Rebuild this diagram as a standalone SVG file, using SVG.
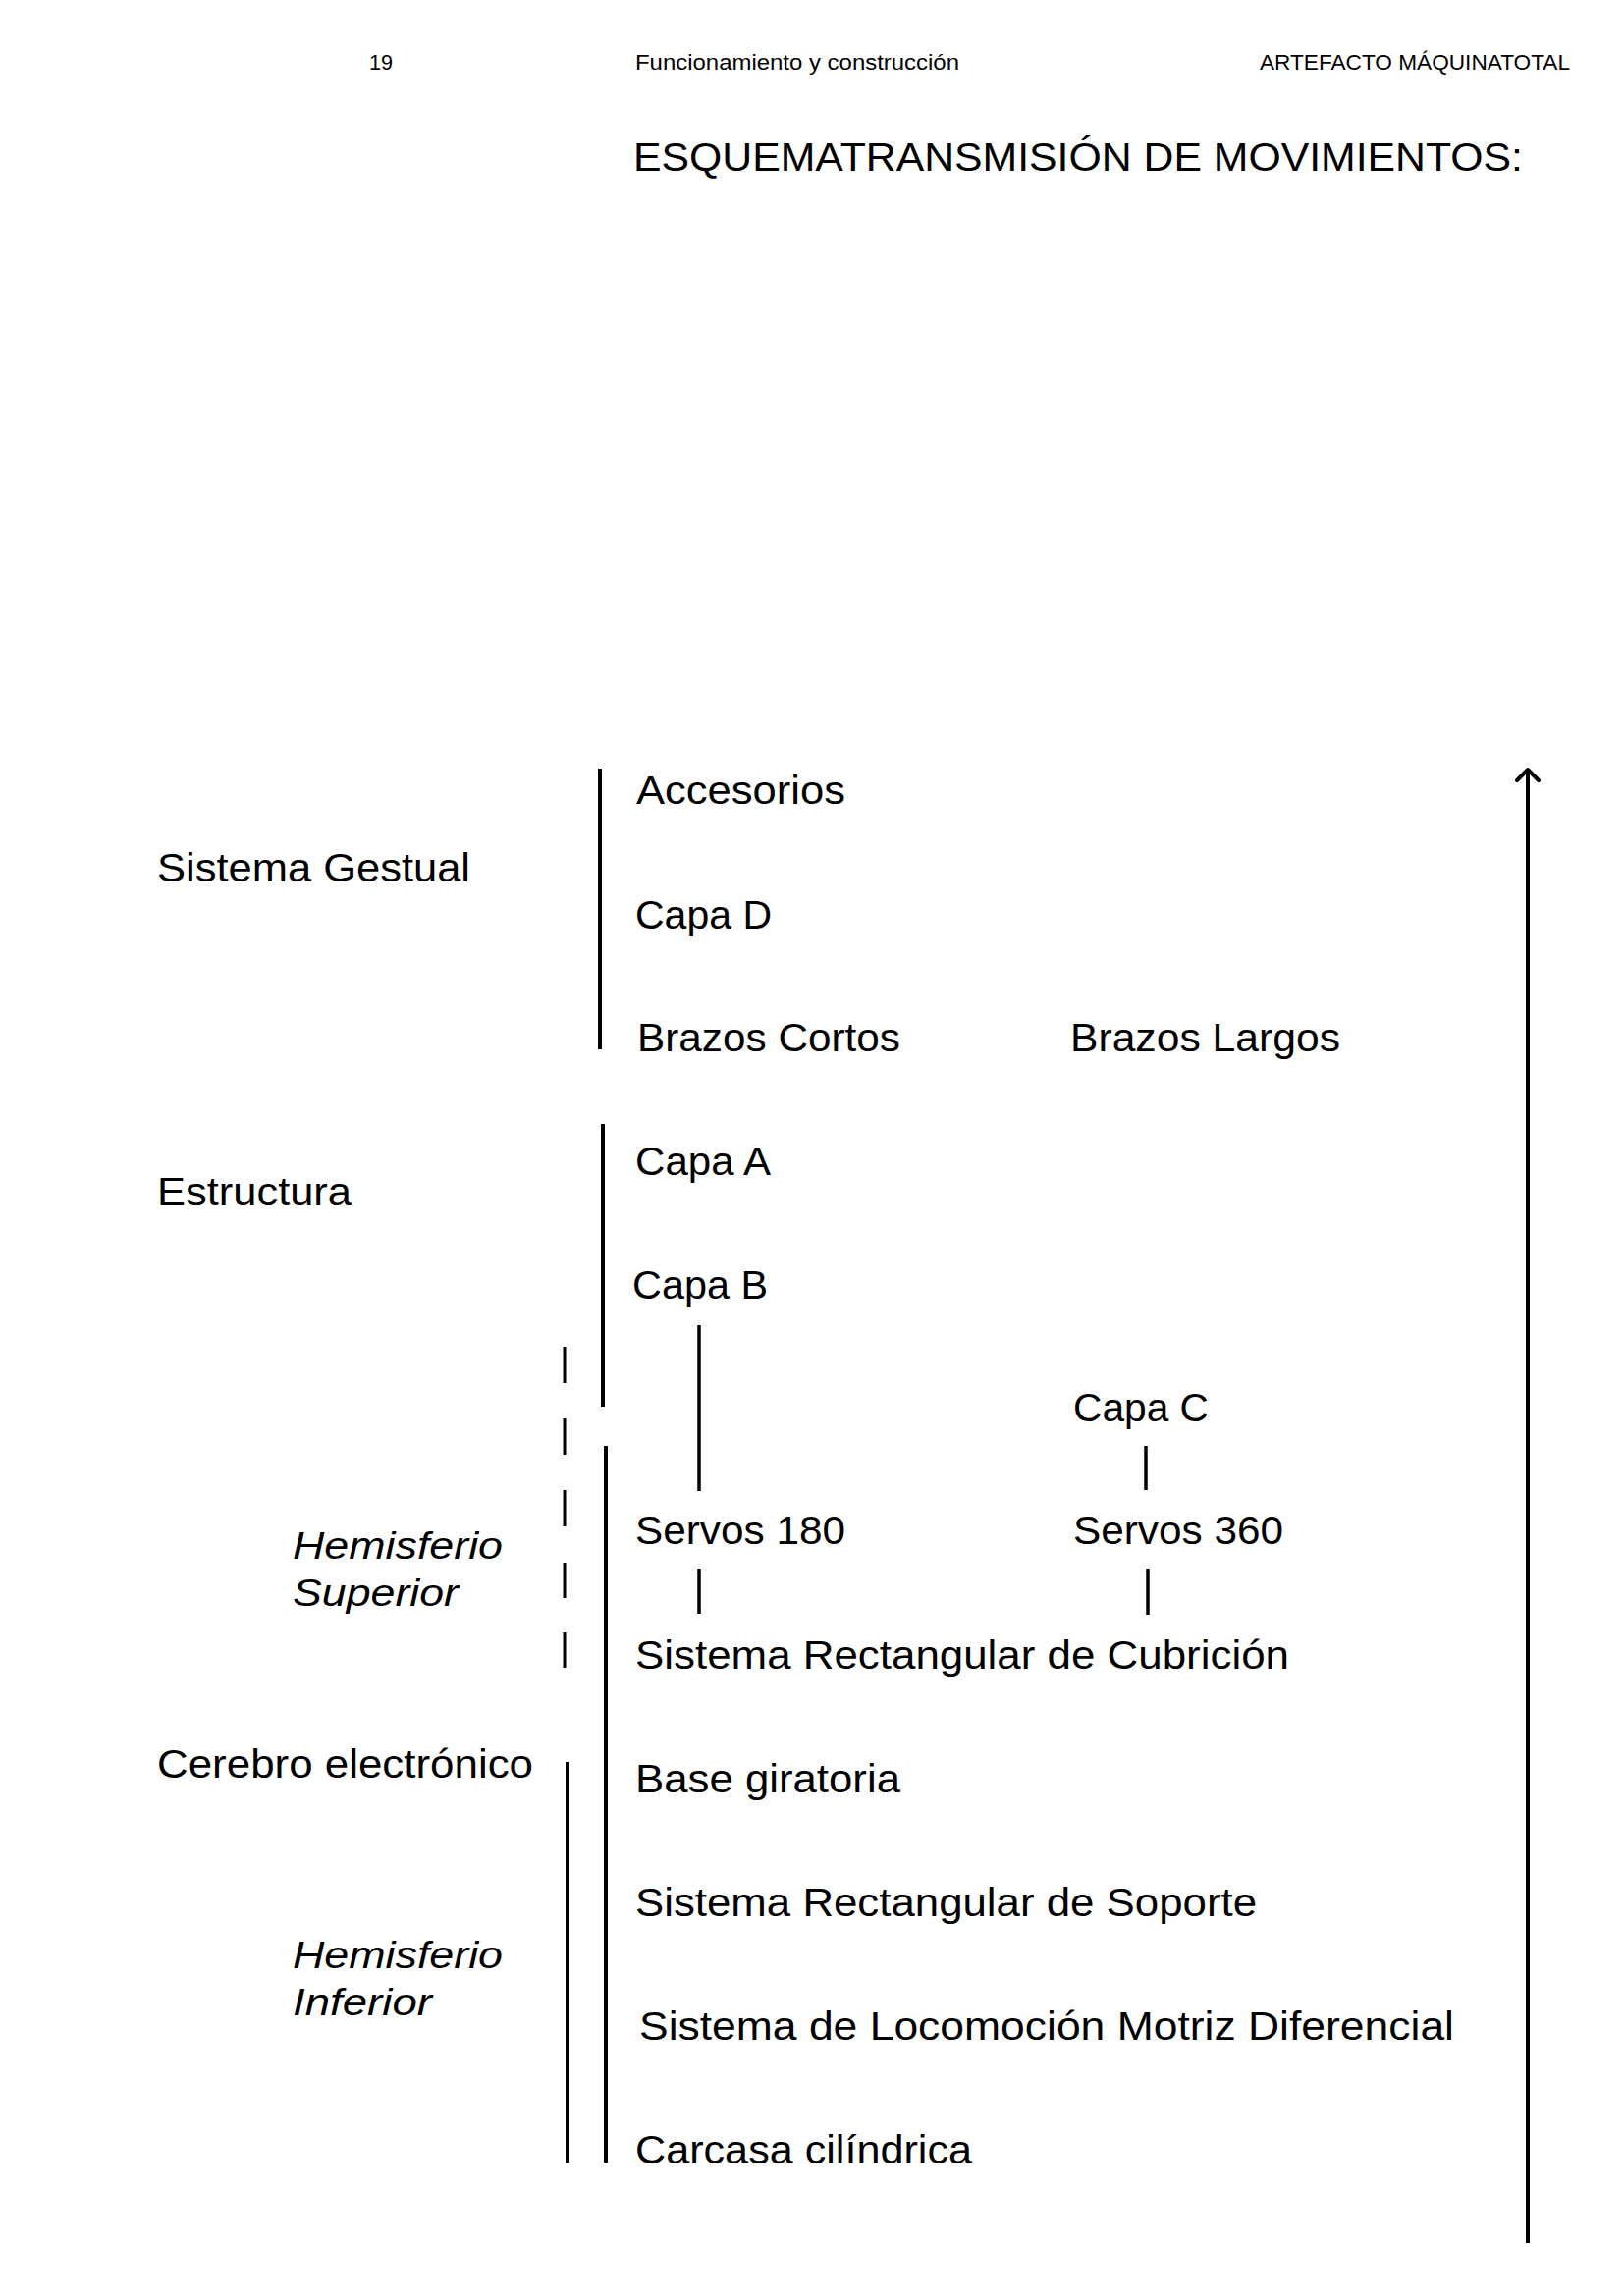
<svg xmlns="http://www.w3.org/2000/svg" width="1654" height="2339" viewBox="0 0 1654 2339">
<style>
text{font-family:"Liberation Sans",Arial,sans-serif;fill:#000}
.hdr{font-size:22px}
.ttl{font-size:41px}
.t{font-size:41px}
.g{font-size:41px}
.it{font-size:39px;font-style:italic}
.ln{stroke:#000;stroke-width:4;fill:none}
.cn{stroke:#000;stroke-width:3.5;fill:none}
.ds{stroke:#000;stroke-width:3;fill:none}
</style>
<rect width="1654" height="2339" fill="#fff"/>
<g id="header">
<text class="hdr" x="376" y="71" textLength="24" lengthAdjust="spacingAndGlyphs">19</text>
<text class="hdr" x="647" y="71" textLength="330" lengthAdjust="spacingAndGlyphs">Funcionamiento y construcción</text>
<text class="hdr" x="1283" y="71" textLength="316" lengthAdjust="spacingAndGlyphs">ARTEFACTO MÁQUINATOTAL</text>
</g>
<g id="title">
<text class="ttl" x="645" y="174" textLength="906" lengthAdjust="spacingAndGlyphs">ESQUEMATRANSMISIÓN DE MOVIMIENTOS:</text>
</g>
<g id="group-labels">
<text id="sistema-gestual" class="g" x="160" y="898" textLength="319" lengthAdjust="spacingAndGlyphs">Sistema Gestual</text>
<text id="estructura" class="g" x="160" y="1228" textLength="198" lengthAdjust="spacingAndGlyphs">Estructura</text>
<text id="cerebro" class="g" x="160" y="1811" textLength="383" lengthAdjust="spacingAndGlyphs">Cerebro electrónico</text>
<g id="hemisferio-superior">
<text class="it" x="298" y="1588" textLength="214" lengthAdjust="spacingAndGlyphs">Hemisferio</text>
<text class="it" x="298" y="1636" textLength="169" lengthAdjust="spacingAndGlyphs">Superior</text>
</g>
<g id="hemisferio-inferior">
<text class="it" x="298" y="2005" textLength="214" lengthAdjust="spacingAndGlyphs">Hemisferio</text>
<text class="it" x="298" y="2053" textLength="142" lengthAdjust="spacingAndGlyphs">Inferior</text>
</g>
</g>
<g id="nodes">
<g id="accesorios"><text class="t" x="648" y="819" textLength="213" lengthAdjust="spacingAndGlyphs">Accesorios</text></g>
<g id="capa-d"><text class="t" x="647" y="946" textLength="139" lengthAdjust="spacingAndGlyphs">Capa D</text></g>
<g id="brazos-cortos"><text class="t" x="649" y="1071" textLength="268" lengthAdjust="spacingAndGlyphs">Brazos Cortos</text></g>
<g id="brazos-largos"><text class="t" x="1090" y="1071" textLength="275" lengthAdjust="spacingAndGlyphs">Brazos Largos</text></g>
<g id="capa-a"><text class="t" x="647" y="1197" textLength="138" lengthAdjust="spacingAndGlyphs">Capa A</text></g>
<g id="capa-b"><text class="t" x="644" y="1323" textLength="138" lengthAdjust="spacingAndGlyphs">Capa B</text></g>
<g id="capa-c"><text class="t" x="1093" y="1448" textLength="138" lengthAdjust="spacingAndGlyphs">Capa C</text></g>
<g id="servos-180"><text class="t" x="647" y="1573" textLength="214" lengthAdjust="spacingAndGlyphs">Servos 180</text></g>
<g id="servos-360"><text class="t" x="1093" y="1573" textLength="214" lengthAdjust="spacingAndGlyphs">Servos 360</text></g>
<g id="cubricion"><text class="t" x="647" y="1700" textLength="666" lengthAdjust="spacingAndGlyphs">Sistema Rectangular de Cubrición</text></g>
<g id="base-giratoria"><text class="t" x="647" y="1826" textLength="270" lengthAdjust="spacingAndGlyphs">Base giratoria</text></g>
<g id="soporte"><text class="t" x="647" y="1952" textLength="633" lengthAdjust="spacingAndGlyphs">Sistema Rectangular de Soporte</text></g>
<g id="locomocion"><text class="t" x="651" y="2078" textLength="830" lengthAdjust="spacingAndGlyphs">Sistema de Locomoción Motriz Diferencial</text></g>
<g id="carcasa"><text class="t" x="647" y="2204" textLength="343" lengthAdjust="spacingAndGlyphs">Carcasa cilíndrica</text></g>
</g>
<g id="connectors">
<line class="ln" x1="611" y1="783" x2="611" y2="1069"/>
<line class="ln" x1="614" y1="1145" x2="614" y2="1433"/>
<line class="ln" x1="617" y1="1473" x2="617" y2="2203"/>
<line class="ln" x1="578" y1="1795" x2="578" y2="2203"/>
<line class="ds" x1="575" y1="1372" x2="575" y2="1409"/>
<line class="ds" x1="575" y1="1445" x2="575" y2="1482"/>
<line class="ds" x1="575" y1="1518" x2="575" y2="1555"/>
<line class="ds" x1="575" y1="1592" x2="575" y2="1628"/>
<line class="ds" x1="575" y1="1663" x2="575" y2="1699"/>
<line class="cn" x1="712" y1="1350" x2="712" y2="1519"/>
<line class="cn" x1="1167" y1="1473" x2="1167" y2="1518"/>
<line class="cn" x1="712" y1="1598" x2="712" y2="1644"/>
<line class="cn" x1="1169" y1="1598" x2="1169" y2="1645"/>
<g id="arrow">
<line class="ln" x1="1556" y1="785" x2="1556" y2="2285"/>
<polyline class="ln" points="1545,795 1556,784 1567,795" stroke-linecap="round" stroke-linejoin="round"/>
</g>
</g>
</svg>
